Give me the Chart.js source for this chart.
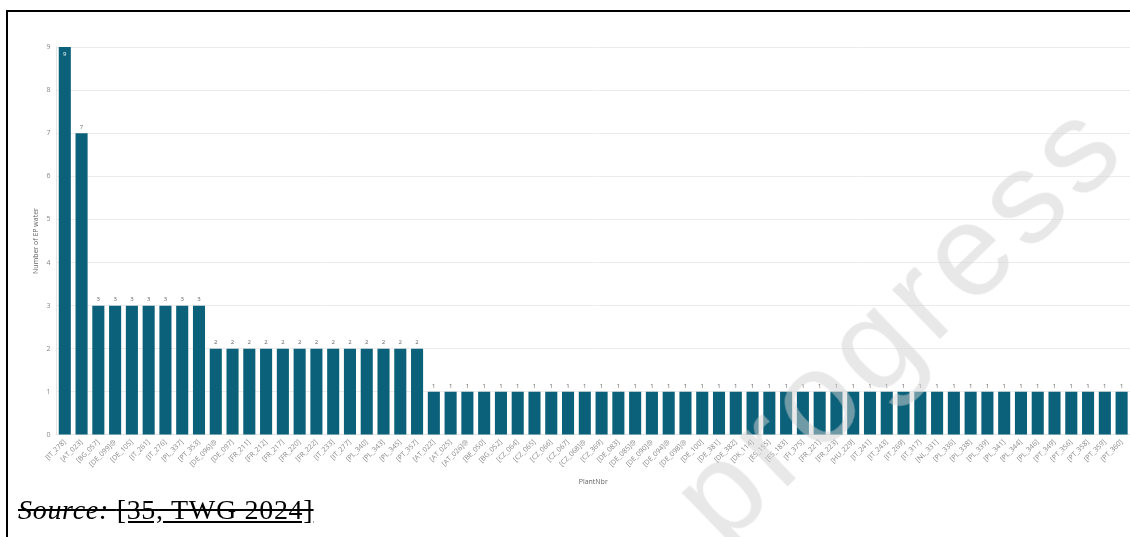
<!DOCTYPE html>
<html>
<head>
<meta charset="utf-8">
<script src="https://cdn.jsdelivr.net/npm/chart.js@4.4.1/dist/chart.umd.min.js"></script>
<style>
  html, body { margin: 0; padding: 0; background: #fff; overflow: hidden; }
  body { width: 1130px; height: 537px; position: relative; }
  .frame { position: absolute; left: 6px; top: 10px; width: 1200px; height: 600px; border: 2px solid #000; }
  #wrap { position: absolute; left: 0; top: 0; width: 1130px; height: 500px; }
  .source {
    position: absolute; left: 18px; top: 494px;
    font-family: "Liberation Serif", "Times New Roman", serif; font-size: 28px; letter-spacing: 0.7px;
    text-decoration: line-through; color: #000; white-space: nowrap;
  }
  .source i { text-decoration: line-through; }
  .source u { text-decoration: underline line-through; }
  .mark {
    position: absolute; left: 640px; top: 462px;
    font-family: "Liberation Sans", Arial, sans-serif; font-size: 130px; font-weight: normal;
    color: rgba(210, 210, 210, 0.5); transform: rotate(-44deg); transform-origin: left top;
    white-space: nowrap; pointer-events: none; letter-spacing: 8px;
  }
</style>
</head>
<body>
<div class="frame"></div>
<div id="wrap"><canvas id="myChart" width="1130" height="500"></canvas></div>
<div class="source"><i>Source:</i> <u>[35, TWG 2024]</u></div>
<div class="mark">progress</div>
<script>
const plants = [
  "[IT_278]", "[AT_023]", "[BG_057]", "[DE_099]@", "[DE_105]", "[IT_261]", "[IT_276]", "[PL_337]",
  "[PT_353]", "[DE_096]@", "[DE_097]", "[FR_211]", "[FR_212]", "[FR_217]", "[FR_220]", "[FR_222]",
  "[IT_233]", "[IT_277]", "[PL_340]", "[PL_343]", "[PL_345]", "[PT_357]", "[AT_022]", "[AT_025]",
  "[AT_026]@", "[BE_050]", "[BG_052]", "[CZ_064]", "[CZ_065]", "[CZ_066]", "[CZ_067]", "[CZ_068]@",
  "[CZ_369]", "[DE_083]", "[DE_085]@", "[DE_090]@", "[DE_094]@", "[DE_098]@", "[DE_100]", "[DE_381]",
  "[DE_382]", "[DK_114]", "[ES_155]", "[ES_183]", "[FI_375]", "[FR_221]", "[FR_223]", "[HU_229]",
  "[IT_241]", "[IT_243]", "[IT_269]", "[IT_317]", "[NL_331]", "[PL_336]", "[PL_338]", "[PL_339]",
  "[PL_341]", "[PL_344]", "[PL_346]", "[PT_349]", "[PT_356]", "[PT_358]", "[PT_359]", "[PT_360]"
];
const epWater = [
  9, 7, 3, 3, 3, 3, 3, 3,
  3, 2, 2, 2, 2, 2, 2, 2,
  2, 2, 2, 2, 2, 2, 1, 1,
  1, 1, 1, 1, 1, 1, 1, 1,
  1, 1, 1, 1, 1, 1, 1, 1,
  1, 1, 1, 1, 1, 1, 1, 1,
  1, 1, 1, 1, 1, 1, 1, 1,
  1, 1, 1, 1, 1, 1, 1, 1
];
const yTicks = [0, 1, 2, 3, 4, 5, 6, 7, 8, 9];

const barColor = "#0b617a";
const tickFont = { family: "'Open Sans', sans-serif", size: 7 };

// value labels above each bar, white inside the bar when there's no room on top
const valueLabels = {
  id: "valueLabels",
  afterDatasetsDraw(chart) {
    const ctx = chart.ctx;
    const area = chart.chartArea;
    ctx.save();
    ctx.font = "6px 'Open Sans', sans-serif";
    ctx.textAlign = "center";
    chart.getDatasetMeta(0).data.forEach((bar, i) => {
      const v = chart.data.datasets[0].data[i];
      if (bar.y - 11 < area.top) {
        ctx.fillStyle = "#ffffff";
        ctx.textBaseline = "top";
        ctx.fillText(v, bar.x, bar.y + 4);
      } else {
        ctx.fillStyle = "#666";
        ctx.textBaseline = "bottom";
        ctx.fillText(v, bar.x, bar.y - 3);
      }
    });
    ctx.restore();
  },
};

new Chart(document.getElementById("myChart"), {
  type: "bar",
  data: {
    labels: plants,
    datasets: [
      {
        label: "Number of EP water",
        data: epWater,
        backgroundColor: barColor,
        categoryPercentage: 0.8,
        barPercentage: 0.9,
      },
    ],
  },
  options: {
    responsive: false,
    animation: false,
    layout: { padding: { left: 28, top: 47, right: 0, bottom: 14 } },
    plugins: {
      legend: { display: false },
      tooltip: { enabled: false },
    },
    scales: {
      x: {
        // let the first rotated label hang over the y axis, like the original
        afterFit: (s) => { s.paddingLeft = 0; s.paddingRight = 0; },
        grid: { display: false, drawTicks: false },
        border: { color: "#e4e4e4" },
        ticks: {
          color: "#888",
          font: tickFont,
          autoSkip: false,
          minRotation: 45,
          maxRotation: 45,
          padding: 3,
        },
        title: {
          display: true,
          text: "PlantNbr",
          color: "#666",
          font: { family: "'Open Sans', sans-serif", size: 7 },
          padding: { top: 6, bottom: 0 },
        },
      },
      y: {
        min: 0,
        max: 9,
        afterBuildTicks: (axis) => { axis.ticks = yTicks.map((v) => ({ value: v })); },
        grid: { color: "#ececec", drawTicks: false },
        border: { color: "#e4e4e4" },
        ticks: { color: "#888", font: tickFont, padding: 6 },
        title: {
          display: true,
          text: "Number of EP water",
          color: "#666",
          font: { family: "'Open Sans', sans-serif", size: 7 },
          padding: { top: 4, bottom: 0 },
        },
      },
    },
  },
  plugins: [valueLabels],
});
</script>
</body>
</html>
